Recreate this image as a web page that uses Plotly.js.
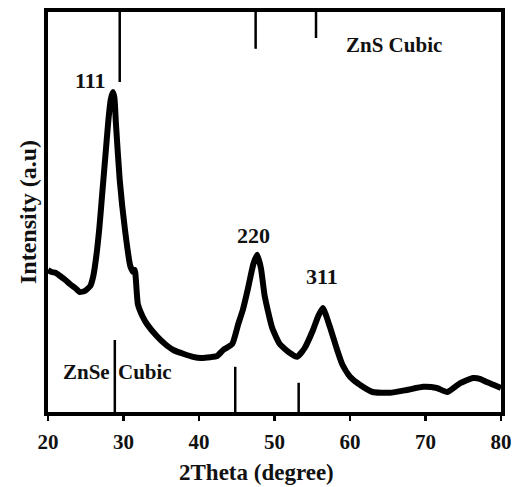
<!DOCTYPE html>
<html>
<head>
<meta charset="utf-8">
<script src="https://cdn.plot.ly/plotly-3.0.1.min.js"></script>
<style>html,body{margin:0;padding:0;background:#fff;}#chart{width:516px;height:487px;}</style>
</head>
<body>
<div id="chart"></div>
<script>
// XRD pattern (2Theta in degrees, intensity in arbitrary units)
const twoTheta = [20.0, 20.5, 21.0, 21.6, 22.3, 22.9, 23.6, 24.2, 24.9, 25.6, 26.0, 26.4, 26.8, 27.2, 27.6, 28.0, 28.3, 28.6, 28.8, 29.0, 29.5, 30.2, 30.9, 31.3, 31.5, 31.9, 32.5, 33.1, 34.4, 35.5, 36.6, 38.0, 39.2, 40.3, 41.5, 42.4, 43.2, 44.4, 45.2, 45.8, 46.5, 47.2, 47.7, 48.2, 48.7, 49.7, 50.7, 52.0, 53.0, 54.0, 55.1, 55.8, 56.4, 57.3, 58.3, 59.0, 60.0, 61.3, 63.0, 65.3, 67.5, 69.7, 71.5, 72.9, 74.6, 76.3, 77.2, 78.1, 79.0, 80.0];
const intensity = [35.5, 35.0, 34.8, 34.0, 33.0, 32.0, 31.0, 30.0, 30.3, 31.5, 34.0, 39.0, 46.0, 55.0, 64.0, 73.0, 78.0, 80.0, 78.5, 72.0, 58.0, 45.5, 36.5, 35.0, 35.5, 27.0, 24.0, 22.0, 19.0, 17.0, 15.5, 14.5, 13.8, 13.5, 13.7, 14.0, 15.5, 17.0, 22.0, 25.5, 31.0, 37.0, 39.3, 36.0, 29.0, 21.0, 17.0, 14.8, 13.8, 16.0, 20.5, 24.0, 26.0, 21.5, 15.5, 11.8, 8.8, 6.8, 5.0, 4.8, 5.5, 6.3, 6.0, 5.0, 7.2, 8.5, 8.3, 7.5, 6.8, 6.0];

// Reference line positions (2Theta) and their ends in intensity units
const znsPositions = [29.5, 47.5, 55.5];
const znsLowerEnds = [82.5, 90.8, 93.5];
const znsePositions = [28.85, 44.8, 53.2];
const znseUpperEnds = [18.0, 11.3, 7.3];

// Peak labels (Miller indices)
const peakLabels = ["111", "220", "311"];
const peakLabelX = [25.6, 47.2, 56.3];
const peakLabelY = [83.0, 44.2, 33.8];

const xTicks = [20, 30, 40, 50, 60, 70, 80];

function segments(xs, y0s, y1s) {
  const x = [], y = [];
  xs.forEach((v, i) => { x.push(v, v, null); y.push(y0s[i], y1s[i], null); });
  return {x, y};
}
const zns = segments(znsPositions, znsPositions.map(() => 100), znsLowerEnds);
const znse = segments(znsePositions, znsePositions.map(() => 0), znseUpperEnds);

const font = "'Liberation Serif', 'Times New Roman', serif";

const traces = [
  {x: twoTheta, y: intensity, mode: 'lines', line: {color: '#000', width: 6, shape: 'spline', smoothing: 0.5}, hoverinfo: 'skip'},
  {x: zns.x, y: zns.y, mode: 'lines', line: {color: '#000', width: 2.5}, connectgaps: false},
  {x: znse.x, y: znse.y, mode: 'lines', line: {color: '#000', width: 2.5}, connectgaps: false}
];

const annotations = [];
peakLabels.forEach((t, i) => annotations.push({x: peakLabelX[i], y: peakLabelY[i], xref: 'x', yref: 'y', text: '<b>' + t + '</b>', showarrow: false, font: {family: font, size: 22, color: '#111'}}));
annotations.push({x: 65.8, y: 91.8, xref: 'x', yref: 'y', text: '<b>ZnS Cubic</b>', showarrow: false, font: {family: font, size: 21, color: '#111'}});
annotations.push({x: znsePositions[0], y: 10.0, xref: 'x', yref: 'y', xanchor: 'right', xshift: -3, text: '<b>ZnSe</b>', showarrow: false, font: {family: font, size: 21, color: '#111'}});
annotations.push({x: znsePositions[0], y: 10.0, xref: 'x', yref: 'y', xanchor: 'left', xshift: 1.5, text: '<b>Cubic</b>', showarrow: false, font: {family: font, size: 21, color: '#111'}});
annotations.push({x: 0.46, y: -0.152, xref: 'paper', yref: 'paper', yanchor: 'middle', text: '<b>2Theta (degree)</b>', showarrow: false, font: {family: font, size: 23, color: '#111'}});

const layout = {
  width: 516, height: 487,
  margin: {l: 48, r: 15, t: 12, b: 75},
  paper_bgcolor: '#fff', plot_bgcolor: '#fff',
  showlegend: false,
  xaxis: {
    range: [20, 80], tickvals: xTicks, ticktext: xTicks.map(String),
    showline: true, linecolor: '#000', linewidth: 4, mirror: true,
    ticks: 'outside', ticklen: 5, tickwidth: 2.5, tickcolor: '#000',
    ticklabelstandoff: 3,
    showgrid: false, zeroline: false,
    tickfont: {family: font, size: 21, color: '#111', weight: 'bold'}
  },
  yaxis: {
    range: [0, 100], showticklabels: false, ticks: '',
    showline: true, linecolor: '#000', linewidth: 4, mirror: true,
    showgrid: false, zeroline: false,
    title: {text: '<b>Intensity (a.u)</b>', standoff: 2, font: {family: font, size: 24, color: '#111'}}
  },
  annotations: annotations
};

Plotly.newPlot('chart', traces, layout, {staticPlot: true, displayModeBar: false});
</script>
</body>
</html>
